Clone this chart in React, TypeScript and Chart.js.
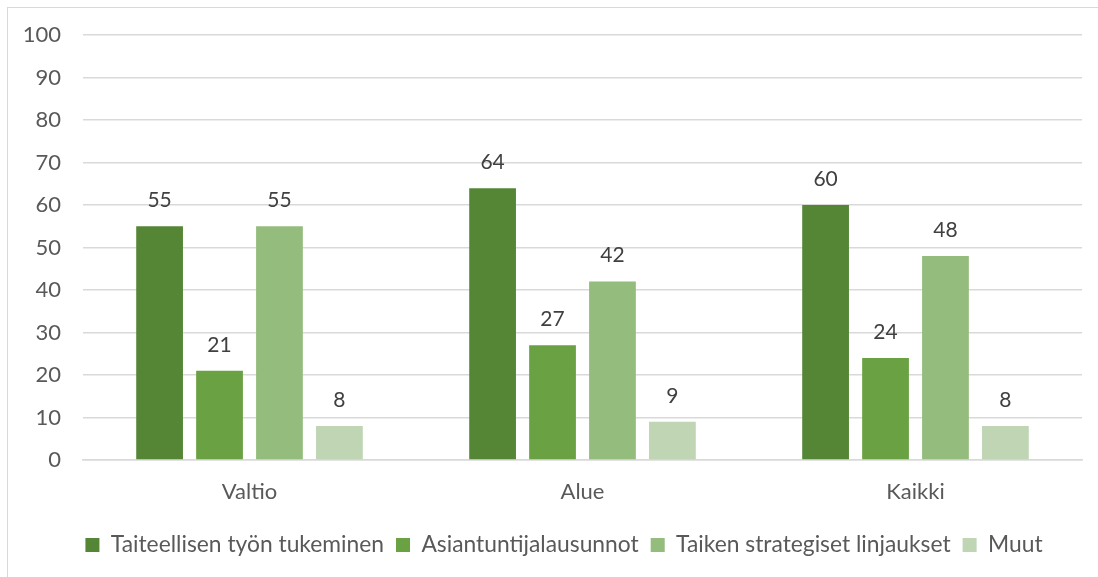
import React, { useEffect, useRef } from "react";
import { Chart, registerables } from "chart.js";

Chart.register(...registerables);

const categories = ["Valtio", "Alue", "Kaikki"];
const seriesNames = [
  "Taiteellisen työn tukeminen",
  "Asiantuntijalausunnot",
  "Taiken strategiset linjaukset",
  "Muut",
];
const taiteellisen = [55, 64, 60];
const asiantuntija = [21, 27, 24];
const strategiset = [55, 42, 48];
const muut = [8, 9, 8];
const colors = ["#558636", "#6aa142", "#94bc7c", "#bfd5b4"];

const FONT = "Lato, 'Open Sans', sans-serif";
const LEGEND_PAD = 12;
const LEGEND_FONT = 22.8;
const LEGEND_H = 44;
const LEGEND_SHIFT = 23;

const valueLabels = {
  id: "valueLabels",
  afterDatasetsDraw(chart: any) {
    const ctx = chart.ctx;
    ctx.save();
    ctx.fillStyle = "#404040";
    ctx.font = `21px ${FONT}`;
    ctx.textAlign = "center";
    ctx.textBaseline = "middle";
    chart.data.datasets.forEach((ds: any, i: number) => {
      const meta = chart.getDatasetMeta(i);
      meta.data.forEach((bar: any, j: number) => {
        ctx.fillText(String(ds.data[j]), bar.x, bar.y - 26);
      });
    });
    ctx.restore();
  },
};

const legendTune = {
  id: "legendTune",
  beforeLayout(chart: any) {
    const lg = chart.legend;
    if (lg && !lg._tuned) {
      lg._tuned = true;
      const orig = lg.fit;
      lg.fit = function (this: any) {
        orig.call(this);
        this.height = LEGEND_H;
      };
    }
  },
  afterLayout(chart: any) {
    const lg = chart.legend;
    if (lg) {
      lg.left += LEGEND_SHIFT;
      lg.right += LEGEND_SHIFT;
    }
  },
};

export default function App() {
  const ref = useRef<HTMLCanvasElement>(null);
  useEffect(() => {
    const all = [taiteellisen, asiantuntija, strategiset, muut];
    const chart = new Chart(ref.current!, {
      type: "bar",
      data: {
        labels: categories,
        datasets: all.map((d, i) => ({
          label: seriesNames[i],
          data: d,
          backgroundColor: colors[i],
          categoryPercentage: 0.72,
          barPercentage: 0.78,
        })),
      },
      options: {
        animation: false,
        responsive: false,
        maintainAspectRatio: false,
        layout: { padding: { top: 35, right: 16, bottom: 11.4, left: 0 } },
        scales: {
          y: {
            min: 0,
            max: 100,
            ticks: { stepSize: 10, color: "#595959", font: { family: FONT, size: 22 }, padding: 22 },
            grid: { color: "#d9d9d9", lineWidth: 1.5, drawTicks: false },
            border: { display: false },
            afterFit: (s: any) => { s.width = 83; },
          },
          x: {
            ticks: { color: "#595959", font: { family: FONT, size: 22 }, padding: 19 },
            grid: { display: false, drawTicks: false },
            border: { color: "#d9d9d9", width: 1.5 },
            afterFit: (s: any) => { s.height = 61.6; },
          },
        },
        plugins: {
          legend: {
            position: "bottom",
            labels: {
              color: "#595959",
              font: { family: FONT, size: LEGEND_FONT },
              boxWidth: 14,
              boxHeight: 14,
              padding: LEGEND_PAD,
            },
          },
          tooltip: { enabled: false },
        },
      },
      plugins: [valueLabels, legendTune],
    });
    return () => chart.destroy();
  }, []);
  return (
    <div style={{ position: "absolute", left: 0, top: 0, width: 1098, height: 577, background: "#fff" }}>
      <div style={{ position: "absolute", left: 7, top: 7, width: 1200, height: 700, borderLeft: "1.5px solid #d9d9d9", borderTop: "1.5px solid #d9d9d9" }} />
      <canvas ref={ref} width={1098} height={577} style={{ position: "absolute", left: 0, top: 0 }} />
    </div>
  );
}
